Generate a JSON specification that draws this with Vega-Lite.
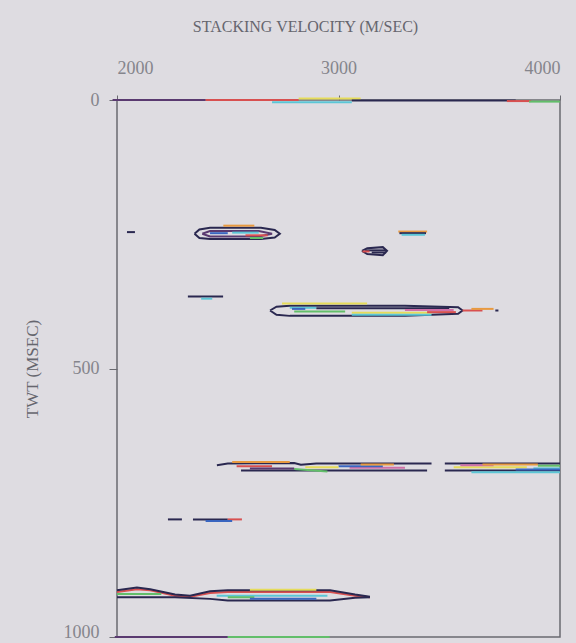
{
  "$schema": "https://vega.github.io/schema/vega-lite/v6.json",
  "width": 443,
  "height": 537,
  "autosize": {"type": "none"},
  "padding": {"left": 117, "top": 100, "right": 16, "bottom": 6},
  "background": "#dedce1",
  "config": {
    "view": {"stroke": "#6a6a70", "strokeWidth": 1.5},
    "font": "Liberation Serif",
    "axis": {"labelFont": "Liberation Serif", "titleFont": "Liberation Serif", "labelColor": "#85858c", "titleColor": "#66666e", "labelFontSize": 18, "titleFontSize": 16, "titleFontWeight": "normal", "grid": false, "tickColor": "#6a6a70", "format": "d"}
  },
  "data": {"values": [
    {"g":"T1","c":"purple","v":1980,"t":0,"o":1},{"g":"T1","c":"purple","v":2400,"t":0,"o":2},
    {"g":"T2","c":"red","v":2400,"t":0,"o":1},{"g":"T2","c":"red","v":2820,"t":0,"o":2},
    {"g":"T3","c":"yellow","v":2820,"t":-3,"o":1},{"g":"T3","c":"yellow","v":3100,"t":-3,"o":2},
    {"g":"T4","c":"cyan","v":2700,"t":4,"o":1},{"g":"T4","c":"cyan","v":3060,"t":4,"o":2},
    {"g":"T5","c":"navy","v":3060,"t":1,"o":1},{"g":"T5","c":"navy","v":3800,"t":1,"o":2},
    {"g":"T6","c":"red","v":3760,"t":2,"o":1},{"g":"T6","c":"red","v":3870,"t":2,"o":2},
    {"g":"T7","c":"green","v":3860,"t":3,"o":1},{"g":"T7","c":"green","v":4000,"t":3,"o":2},
    {"g":"B1","c":"purple","v":1990,"t":1000,"o":1},{"g":"B1","c":"purple","v":2500,"t":1000,"o":2},
    {"g":"B2","c":"green","v":2500,"t":1000,"o":1},{"g":"B2","c":"green","v":2960,"t":1000,"o":2},

    {"g":"D2","c":"navy","v":2045,"t":246,"o":1},{"g":"D2","c":"navy","v":2081,"t":246,"o":2},

    {"g":"A1","c":"navy","v":2350,"t":249,"o":1},{"g":"A1","c":"navy","v":2372,"t":241,"o":2},{"g":"A1","c":"navy","v":2420,"t":238,"o":3},{"g":"A1","c":"navy","v":2650,"t":238,"o":4},{"g":"A1","c":"navy","v":2712,"t":242,"o":5},{"g":"A1","c":"navy","v":2735,"t":249,"o":6},{"g":"A1","c":"navy","v":2712,"t":256,"o":7},{"g":"A1","c":"navy","v":2650,"t":259,"o":8},{"g":"A1","c":"navy","v":2420,"t":259,"o":9},{"g":"A1","c":"navy","v":2372,"t":257,"o":10},{"g":"A1","c":"navy","v":2350,"t":249,"o":11},
    {"g":"A2","c":"orange","v":2480,"t":234,"o":1},{"g":"A2","c":"orange","v":2620,"t":234,"o":2},
    {"g":"A3","c":"purple","v":2385,"t":249,"o":1},{"g":"A3","c":"purple","v":2420,"t":244,"o":2},{"g":"A3","c":"purple","v":2640,"t":244,"o":3},{"g":"A3","c":"purple","v":2700,"t":249,"o":4},{"g":"A3","c":"purple","v":2640,"t":254,"o":5},{"g":"A3","c":"purple","v":2420,"t":254,"o":6},{"g":"A3","c":"purple","v":2385,"t":249,"o":7},
    {"g":"A4","c":"blue","v":2420,"t":248,"o":1},{"g":"A4","c":"blue","v":2500,"t":248,"o":2},
    {"g":"A5","c":"cyan","v":2520,"t":247,"o":1},{"g":"A5","c":"cyan","v":2640,"t":247,"o":2},
    {"g":"A6","c":"red","v":2580,"t":252,"o":1},{"g":"A6","c":"red","v":2680,"t":252,"o":2},
    {"g":"A7","c":"green","v":2600,"t":257,"o":1},{"g":"A7","c":"green","v":2660,"t":257,"o":2},

    {"g":"C1","c":"orange","v":3270,"t":245,"o":1},{"g":"C1","c":"orange","v":3400,"t":245,"o":2},
    {"g":"C2","c":"navy","v":3275,"t":248,"o":1},{"g":"C2","c":"navy","v":3395,"t":248,"o":2},
    {"g":"C3","c":"cyan","v":3285,"t":251,"o":1},{"g":"C3","c":"cyan","v":3390,"t":251,"o":2},

    {"g":"E1","c":"navy","v":3106,"t":281,"o":1},{"g":"E1","c":"navy","v":3130,"t":276,"o":2},{"g":"E1","c":"navy","v":3200,"t":274,"o":3},{"g":"E1","c":"navy","v":3219,"t":281,"o":4},{"g":"E1","c":"navy","v":3200,"t":289,"o":5},{"g":"E1","c":"navy","v":3130,"t":287,"o":6},{"g":"E1","c":"navy","v":3106,"t":281,"o":7},
    {"g":"E2","c":"navy","v":3120,"t":280,"o":1},{"g":"E2","c":"navy","v":3215,"t":280,"o":2},
    {"g":"E3","c":"navy","v":3150,"t":284,"o":1},{"g":"E3","c":"navy","v":3215,"t":284,"o":2},
    {"g":"E4","c":"red","v":3108,"t":282,"o":1},{"g":"E4","c":"red","v":3140,"t":282,"o":2},

    {"g":"F1","c":"navy","v":2320,"t":366,"o":1},{"g":"F1","c":"navy","v":2479,"t":366,"o":2},
    {"g":"F2","c":"cyan","v":2380,"t":370,"o":1},{"g":"F2","c":"cyan","v":2430,"t":370,"o":2},

    {"g":"G1","c":"navy","v":2691,"t":392,"o":1},{"g":"G1","c":"navy","v":2720,"t":385,"o":2},{"g":"G1","c":"navy","v":2780,"t":383,"o":3},{"g":"G1","c":"navy","v":3300,"t":383,"o":4},{"g":"G1","c":"navy","v":3540,"t":386,"o":5},{"g":"G1","c":"navy","v":3560,"t":392,"o":6},{"g":"G1","c":"navy","v":3540,"t":398,"o":7},{"g":"G1","c":"navy","v":3300,"t":402,"o":8},{"g":"G1","c":"navy","v":2780,"t":402,"o":9},{"g":"G1","c":"navy","v":2720,"t":400,"o":10},{"g":"G1","c":"navy","v":2691,"t":392,"o":11},
    {"g":"G2","c":"red","v":3560,"t":392,"o":1},{"g":"G2","c":"red","v":3650,"t":392,"o":2},
    {"g":"G3","c":"orange","v":3600,"t":389,"o":1},{"g":"G3","c":"orange","v":3700,"t":389,"o":2},
    {"g":"G4","c":"navy","v":3708,"t":392,"o":1},{"g":"G4","c":"navy","v":3722,"t":392,"o":2},
    {"g":"G5","c":"yellow","v":2745,"t":379,"o":1},{"g":"G5","c":"yellow","v":3129,"t":379,"o":2},
    {"g":"G6","c":"cyan","v":2780,"t":387,"o":1},{"g":"G6","c":"cyan","v":2900,"t":387,"o":2},
    {"g":"G7","c":"blue","v":2790,"t":389,"o":1},{"g":"G7","c":"blue","v":2850,"t":389,"o":2},
    {"g":"G8","c":"navy","v":2900,"t":388,"o":1},{"g":"G8","c":"navy","v":3500,"t":388,"o":2},
    {"g":"G9","c":"pink","v":3300,"t":391,"o":1},{"g":"G9","c":"pink","v":3520,"t":391,"o":2},
    {"g":"G10","c":"green","v":2800,"t":394,"o":1},{"g":"G10","c":"green","v":3030,"t":394,"o":2},
    {"g":"G11","c":"yellow","v":3060,"t":396,"o":1},{"g":"G11","c":"yellow","v":3420,"t":396,"o":2},
    {"g":"G12","c":"cyan","v":3060,"t":400,"o":1},{"g":"G12","c":"cyan","v":3420,"t":400,"o":2},
    {"g":"G13","c":"red","v":3400,"t":395,"o":1},{"g":"G13","c":"red","v":3530,"t":395,"o":2},

    {"g":"H1","c":"navy","v":2451,"t":680,"o":1},{"g":"H1","c":"navy","v":2500,"t":677,"o":2},{"g":"H1","c":"navy","v":2800,"t":676,"o":3},{"g":"H1","c":"navy","v":2830,"t":679,"o":4},{"g":"H1","c":"navy","v":2900,"t":677,"o":5},{"g":"H1","c":"navy","v":3420,"t":677,"o":6},
    {"g":"H1b","c":"navy","v":3480,"t":677,"o":1},{"g":"H1b","c":"navy","v":4000,"t":677,"o":2},
    {"g":"H2","c":"orange","v":2520,"t":674,"o":1},{"g":"H2","c":"orange","v":2780,"t":674,"o":2},
    {"g":"H3","c":"red","v":2540,"t":682,"o":1},{"g":"H3","c":"red","v":2700,"t":682,"o":2},
    {"g":"H4","c":"navy","v":2560,"t":690,"o":1},{"g":"H4","c":"navy","v":3400,"t":690,"o":2},
    {"g":"H5","c":"navy","v":3480,"t":690,"o":1},{"g":"H5","c":"navy","v":4000,"t":690,"o":2},
    {"g":"H6","c":"green","v":2800,"t":687,"o":1},{"g":"H6","c":"green","v":2950,"t":692,"o":2},
    {"g":"H7","c":"yellow","v":3520,"t":684,"o":1},{"g":"H7","c":"yellow","v":3850,"t":684,"o":2},
    {"g":"H8","c":"cyan","v":3880,"t":686,"o":1},{"g":"H8","c":"cyan","v":4000,"t":686,"o":2},
    {"g":"H9","c":"cyan","v":3600,"t":693,"o":1},{"g":"H9","c":"cyan","v":4000,"t":693,"o":2},
    {"g":"H10","c":"pink","v":3050,"t":685,"o":1},{"g":"H10","c":"pink","v":3300,"t":685,"o":2},
    {"g":"H11","c":"pink","v":3550,"t":680,"o":1},{"g":"H11","c":"pink","v":3700,"t":680,"o":2},
    {"g":"H12","c":"blue","v":3000,"t":682,"o":1},{"g":"H12","c":"blue","v":3200,"t":682,"o":2},
    {"g":"H13","c":"blue","v":3800,"t":688,"o":1},{"g":"H13","c":"blue","v":4000,"t":688,"o":2},
    {"g":"H14","c":"orange","v":3100,"t":679,"o":1},{"g":"H14","c":"orange","v":3250,"t":679,"o":2},
    {"g":"H15","c":"orange","v":3650,"t":679,"o":1},{"g":"H15","c":"orange","v":3900,"t":679,"o":2},
    {"g":"H16","c":"green","v":3900,"t":681,"o":1},{"g":"H16","c":"green","v":4000,"t":681,"o":2},
    {"g":"H17","c":"purple","v":2600,"t":686,"o":1},{"g":"H17","c":"purple","v":2800,"t":686,"o":2},
    {"g":"H18","c":"yellow","v":2850,"t":684,"o":1},{"g":"H18","c":"yellow","v":3000,"t":684,"o":2},

    {"g":"J1","c":"navy","v":2230,"t":781,"o":1},{"g":"J1","c":"navy","v":2293,"t":781,"o":2},
    {"g":"J2","c":"navy","v":2343,"t":781,"o":1},{"g":"J2","c":"navy","v":2500,"t":781,"o":2},
    {"g":"J3","c":"red","v":2500,"t":781,"o":1},{"g":"J3","c":"red","v":2564,"t":781,"o":2},
    {"g":"J4","c":"blue","v":2400,"t":784,"o":1},{"g":"J4","c":"blue","v":2520,"t":784,"o":2},

    {"g":"K1","c":"red","v":2000,"t":916,"o":1},{"g":"K1","c":"red","v":2090,"t":911,"o":2},{"g":"K1","c":"red","v":2150,"t":913,"o":3},{"g":"K1","c":"red","v":2262,"t":923,"o":4},{"g":"K1","c":"red","v":2330,"t":925,"o":5},{"g":"K1","c":"red","v":2420,"t":918,"o":6},{"g":"K1","c":"red","v":2500,"t":916,"o":7},{"g":"K1","c":"red","v":2962,"t":916,"o":8},{"g":"K1","c":"red","v":3075,"t":923,"o":9},{"g":"K1","c":"red","v":3142,"t":926,"o":10},
    {"g":"K2","c":"navy","v":2000,"t":913,"o":1},{"g":"K2","c":"navy","v":2090,"t":908,"o":2},{"g":"K2","c":"navy","v":2150,"t":911,"o":3},{"g":"K2","c":"navy","v":2262,"t":921,"o":4},{"g":"K2","c":"navy","v":2330,"t":923,"o":5},{"g":"K2","c":"navy","v":2420,"t":915,"o":6},{"g":"K2","c":"navy","v":2500,"t":913,"o":7},{"g":"K2","c":"navy","v":2962,"t":913,"o":8},{"g":"K2","c":"navy","v":3075,"t":921,"o":9},{"g":"K2","c":"navy","v":3142,"t":925,"o":10},
    {"g":"K3","c":"navy","v":2000,"t":926,"o":1},{"g":"K3","c":"navy","v":2262,"t":926,"o":2},{"g":"K3","c":"navy","v":2420,"t":929,"o":3},{"g":"K3","c":"navy","v":2500,"t":932,"o":4},{"g":"K3","c":"navy","v":2962,"t":932,"o":5},{"g":"K3","c":"navy","v":3075,"t":927,"o":6},{"g":"K3","c":"navy","v":3142,"t":926,"o":7},
    {"g":"K4","c":"green","v":2000,"t":920,"o":1},{"g":"K4","c":"green","v":2200,"t":920,"o":2},
    {"g":"K5","c":"yellow","v":2600,"t":912,"o":1},{"g":"K5","c":"yellow","v":2900,"t":912,"o":2},
    {"g":"K6","c":"cyan","v":2450,"t":923,"o":1},{"g":"K6","c":"cyan","v":2950,"t":923,"o":2},
    {"g":"K7","c":"green","v":2500,"t":926,"o":1},{"g":"K7","c":"green","v":2620,"t":926,"o":2},
    {"g":"K8","c":"blue","v":2600,"t":929,"o":1},{"g":"K8","c":"blue","v":2900,"t":929,"o":2}
  ]},
  "mark": {"type": "line", "strokeWidth": 2, "clip": false},
  "encoding": {
    "x": {"field": "v", "type": "quantitative", "scale": {"domain": [2000, 4000]},
      "axis": {"orient": "top", "values": [2000, 3000, 4000], "domain": false, "tickSize": 5, "labelPadding": 18, "title": "STACKING VELOCITY (M/SEC)", "titlePadding": 25, "titleX": 188}},
    "y": {"field": "t", "type": "quantitative", "scale": {"domain": [0, 1000], "reverse": true},
      "axis": {"values": [0, 500, 1000], "domain": false, "tickSize": 8, "labelPadding": 10, "labelBaseline": {"expr": "datum.value == 1000 ? 'alphabetic' : 'middle'"}, "title": "TWT (MSEC)", "titlePadding": 22, "titleFontSize": 17}},
    "detail": {"field": "g"},
    "order": {"field": "o"},
    "color": {"field": "c", "type": "nominal", "legend": null,
      "scale": {"domain": ["navy", "purple", "red", "orange", "yellow", "green", "cyan", "blue", "pink"],
        "range": ["#2a2850", "#5a3a70", "#d85050", "#e89a40", "#e6dc5a", "#62be6a", "#5cc6d6", "#3a66c0", "#d070a8"]}}
  }
}
